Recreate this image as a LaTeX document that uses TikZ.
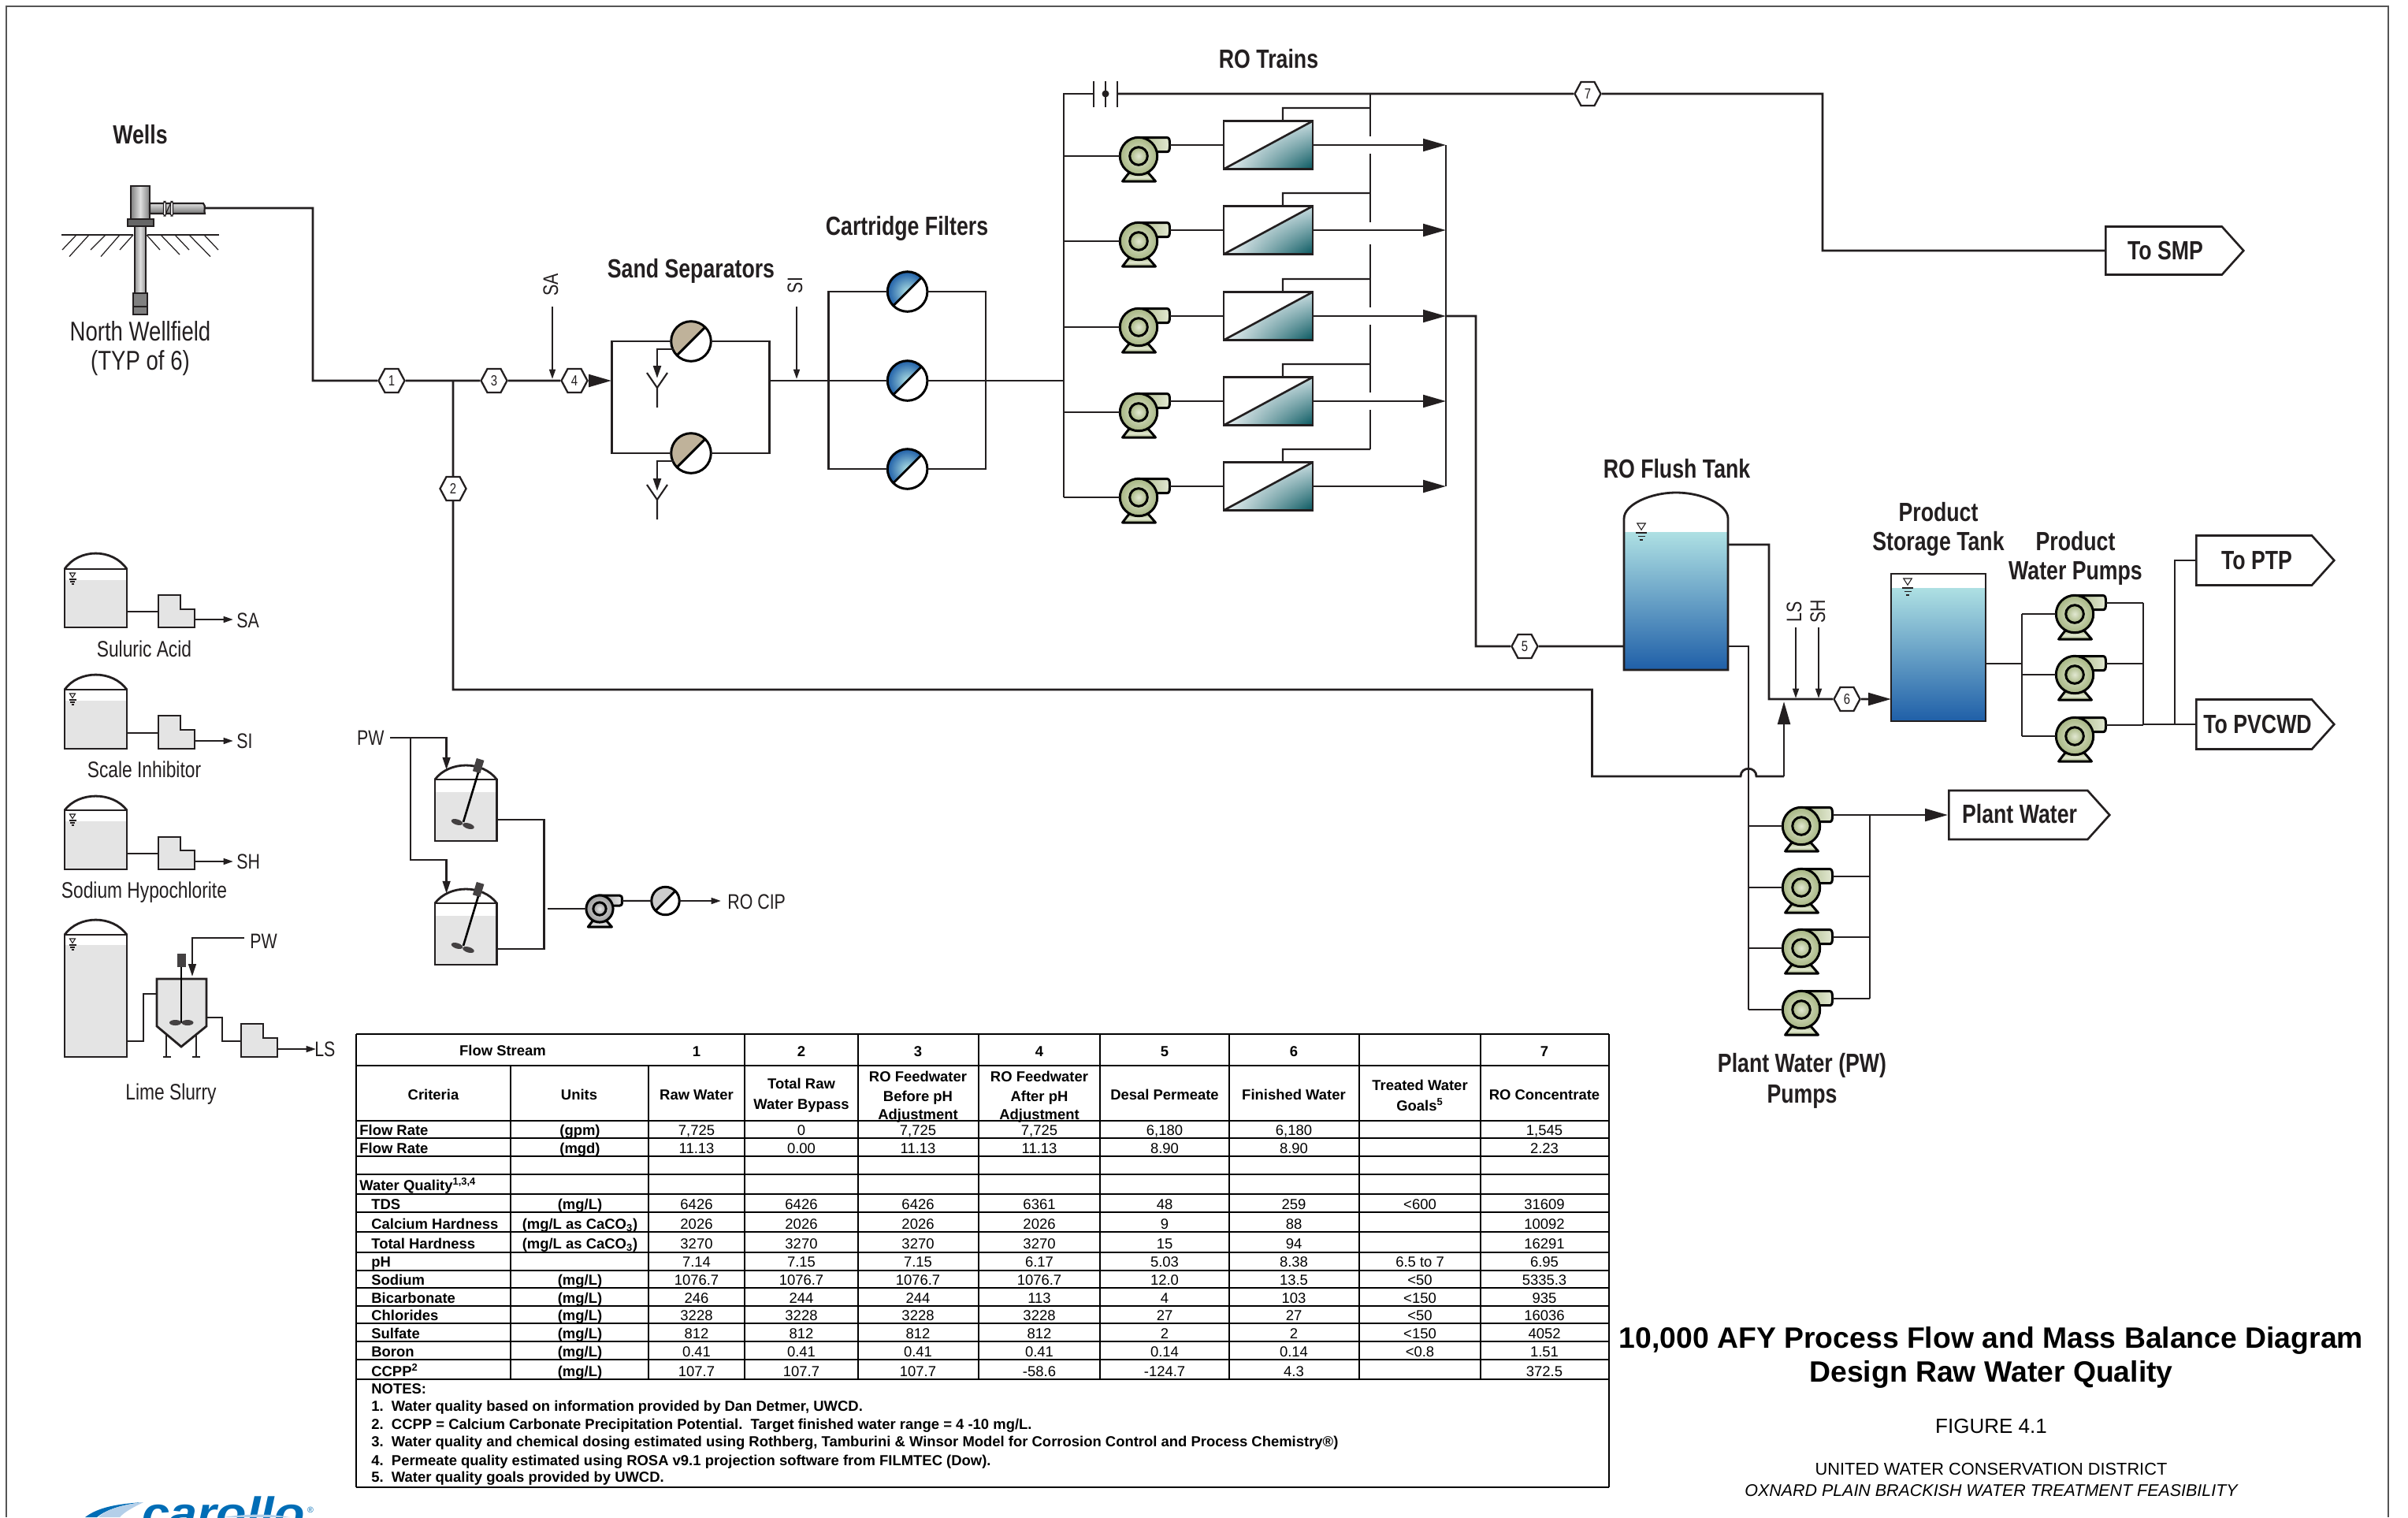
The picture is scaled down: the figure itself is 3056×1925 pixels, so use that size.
\documentclass[tikz,border=0pt]{standalone}
\usepackage{fontspec}
\setmainfont{Liberation Sans}
\newfontfamily\condb[FakeStretch=0.80]{Liberation Sans}
\newfontfamily\condr[FakeStretch=0.80]{Liberation Sans}
\usetikzlibrary{arrows.meta,shapes.symbols,shadings}
\def\px{0.569055pt}
\definecolor{lin}{HTML}{231F20}
\definecolor{framec}{HTML}{555555}
\definecolor{liq}{HTML}{E4E4E4}
\definecolor{aqua}{HTML}{AEE0E3}
\definecolor{deepb}{HTML}{1F5FA8}
\definecolor{tan}{HTML}{BFB29A}
\definecolor{pumpL}{HTML}{E2E8D2}
\definecolor{pumpD}{HTML}{A7B683}
\definecolor{grayL}{HTML}{E6E6E6}
\definecolor{grayD}{HTML}{9A9A9A}
\definecolor{tealD}{HTML}{07575F}
\definecolor{tealM}{HTML}{C8DCE0}
\definecolor{tealW}{HTML}{EEF4F6}
\definecolor{logoD}{HTML}{006DB6}
\definecolor{logoL}{HTML}{B4CFE9}
\tikzset{
 x=0.02cm,y=-0.02cm,
 pipe/.style={draw=lin,line width=1.6pt,line join=miter},
 fine/.style={draw=lin,line width=1.3pt,line join=miter},
 edgeline/.style={draw=black,line width=1.6pt,line join=miter},
 bigarrow/.style={-{Triangle[length=16.5pt,width=9pt]}},
 medarrow/.style={-{Triangle[length=9pt,width=5.5pt]}},
 smallarrow/.style={-{Triangle[length=7pt,width=4.4pt]}},
 hexnode/.style={shape=signal,signal to=east and west,signal pointer angle=124,draw=lin,line width=1.3pt,fill=white,
   minimum width=33*\px,minimum height=30*\px,inner sep=0pt,font=\fontsize{10.6}{12}\selectfont\condr,text=lin},
 flagnode/.style={shape=signal,signal to=east,signal pointer angle=96,draw=lin,line width=1.5pt,fill=white,anchor=west,inner sep=0pt},
 boldlbl/.style={font=\fontsize{19}{22}\selectfont\condb\bfseries,text=lin,inner sep=0pt,align=center},
 reglbl/.style={font=\fontsize{19.6}{22}\selectfont\condr,text=lin,inner sep=0pt,align=center},
 chemlbl/.style={font=\fontsize{16.2}{20}\selectfont\condr,text=lin,inner sep=0pt},
 taglbl/.style={font=\fontsize{15.2}{18}\selectfont\condr,text=lin,inner sep=0pt},
 cellr/.style={font=\fontsize{10.5}{12}\selectfont,text=black,inner sep=0pt,text height=.75em,text depth=.25em,yshift=-2pt},
 cellb/.style={font=\fontsize{10.5}{12}\selectfont\bfseries,text=black,inner sep=0pt,text height=.75em,text depth=.25em,yshift=-2pt},
 cellm/.style={font=\fontsize{10.5}{12}\selectfont\bfseries,text=black,inner sep=0pt,align=center,yshift=-1pt},
 tline/.style={draw=black,line width=1.4pt},
 titlelbl/.style={font=\fontsize{21.25}{24}\selectfont\bfseries,text=black,inner sep=0pt},
 pics/pump/.style n args={2}{code={
   \shade[left color=#2,right color=#1,draw=black,line width=1.7pt,line join=round]
     (-2,-23.5) -- (35,-23.5) .. controls (39,-23.5) and (39.5,-22) .. (39.5,-14) .. controls (39.5,-7) and (39,-5.3) .. (35,-5.3) -- (15,-5.3) -- cycle;
   \shade[top color=#2,bottom color=#2,middle color=#1,draw=black,line width=1.7pt,line join=round] (-12,21) -- (-20.5,32) -- (21.5,32) -- (12,21) -- cycle;
   \shade[inner color=#1,outer color=#2,draw=black,line width=1.7pt] (0,0) circle[radius=23.7];
   \shade[inner color=#1,outer color=#2,draw=black,line width=1.7pt] (0,0) circle[radius=11.3];
   \coordinate (-in) at (-23.7,0); \coordinate (-out) at (39.5,-14);
 }},
 pics/rounit/.style={code={
   \fill[white] (-56.5,-30.5) rectangle (56.5,30.5);
   \shade[upper left=white,upper right=tealM,lower left=tealW,lower right=tealD] (-56.5,30.5) -- (56.5,-30.5) -- (56.5,30.5) -- cycle;
   \draw[lin,line width=1.5pt] (-56.5,30.5) -- (56.5,-30.5);
   \draw[lin,line width=1.6pt] (-56.5,-30.5) rectangle (56.5,30.5);
   \coordinate (-in) at (-56.5,0); \coordinate (-out) at (56.5,0); \coordinate (-top) at (18.5,-30.5);
 }},
 pics/splitball/.style n args={2}{code={
   \fill[white] (0,0) circle[radius=25.3];
   \begin{scope}
     \clip (-30,30) -- (30,-30) -- (-30,-30) -- cycle;
     \shade[inner color=#1,outer color=#2] (0,0) circle[radius=25.3];
   \end{scope}
   \draw[black,line width=1.7pt] (-17.9,17.9) -- (17.9,-17.9);
   \draw[black,line width=1.7pt] (0,0) circle[radius=25.3];
   \coordinate (-w) at (-25.3,0); \coordinate (-e) at (25.3,0); \coordinate (-ll) at (-22,10);
 }},
 pics/levelmark/.style={code={
   \draw[lin,line width=.6pt,fill=white] (-3.5,0) -- (3.5,0) -- (0,5.5) -- cycle;
   \draw[lin,line width=.6pt] (-4.5,8) -- (4.5,8) (-3,11) -- (3,11) (-1.5,14) -- (1.5,14);
 }},
 pics/drainY/.style={code={
   \draw[lin,line width=1.2pt,line join=miter] (-13,0) -- (0,19) -- (13,0) (0,19) -- (0,44);
 }},
 pics/agitank/.style={code={
   \fill[liq] (0,34) rectangle (78.5,96);
   \draw[lin,line width=1.6pt] (0,18) .. controls (18,-6) and (60.5,-6) .. (78.5,18);
   \draw[lin,line width=1.6pt] (0,18) rectangle (78.5,96);
   \draw[black,line width=1.5pt] (55,9) -- (36,72);
   \begin{scope}[shift={(55,1)},rotate=-17]
     \fill[lin!85] (-5,-9) rectangle (5,8);
   \end{scope}
   \fill[lin!85,rotate around={-17:(28,72)}] (28,72) ellipse[x radius=7.5,y radius=3.5];
   \fill[lin!85,rotate around={-17:(42.5,77)}] (42.5,77) ellipse[x radius=7.5,y radius=3.5];
   \coordinate (-in) at (14.6,5.7); \coordinate (-r) at (78.5,69);
 }}
}
\newcommand\chemtank[5]{% name, dome, shoulder, liquid, bottom
  \fill[liq] (82,#4) rectangle (161,#5);
  \draw[lin,line width=1.6pt] (82,#3) .. controls (100,{#3-1.33*(#3-#2)}) and (143,{#3-1.33*(#3-#2)}) .. (161,#3);
  \draw[lin,line width=1.6pt] (82,#3) rectangle (161,#5);
  \pic at (92,{#3+5}) {levelmark};
  \coordinate (#1-e) at (161,#5);
}
\newcommand\lpump[5]{% name, x, top, step, bottom
  \draw[lin,line width=1.6pt,fill=liq] (#2,#3) -- ({#2+28},#3) -- ({#2+28},#4) -- ({#2+46},#4) -- ({#2+46},#5) -- (#2,#5) -- cycle;
  \coordinate (#1-in) at (#2,{#5-20});
  \coordinate (#1-out) at ({#2+46},{#5-10});
  \coordinate (#1-tip) at ({#2+95},{#5-10});
}
\newcommand\trow[6]{% id, y, label x, label, unit, values
  \node[cellb,anchor=west] (lab#1) at (#3,#2) {#4};
  \node[cellb] (unit#1) at (736,#2) {#5};
  \foreach \v [count=\i] in {#6} {
    \pgfmathsetmacro\cx{{884,1017,1165,1319,1478,1642,1802,1960}[\i-1]}
    \node[cellr] (v#1-\i) at (\cx,#2) {\v};
  }
}
\begin{document}
\begin{tikzpicture}
\path[use as bounding box,fill=white] (0,0) rectangle (3056,1925);
% frame
\coordinate (fa) at (8,1925); \coordinate (fb) at (8,8); \coordinate (fc) at (3031,8); \coordinate (fd) at (3031,1925);
\draw[framec,line width=1.4pt] (fa) -- (fb) -- (fc) -- (fd);

% ---------- titles
\node[boldlbl] (tWells) at (178,171) {Wells};
\node[reglbl] (tNorth) at (178,420) {North Wellfield};
\node[reglbl] (tTyp) at (178,461) {(TYP of 6)};
\node[boldlbl] (tSand) at (877,344) {Sand Separators};
\node[boldlbl] (tCart) at (1151,290) {Cartridge Filters};
\node[boldlbl] (tRO) at (1610,75) {RO Trains};
\node[boldlbl] (tFlush) at (2128,595) {RO Flush Tank};
\node[boldlbl] (tProdA) at (2460,650) {Product};
\node[boldlbl] (tProdB) at (2460,690) {Storage Tank};
\node[boldlbl] (tPWA) at (2634,687) {Product};
\node[boldlbl] (tPWB) at (2634,727) {Water Pumps};
\node[boldlbl] (tPlA) at (2287,1352) {Plant Water (PW)};
\node[boldlbl] (tPlB) at (2287,1391) {Pumps};

% ---------- well
\begin{scope}
 \shade[left color=gray!85,right color=gray!85,middle color=gray!25,draw=lin,line width=1.4pt] (171,287) rectangle (185,372);
 \shade[left color=gray,right color=gray,middle color=gray!25,draw=lin,line width=1.6pt] (166,236) rectangle (190,278);
 \shade[top color=gray!25,bottom color=gray!90!black,draw=lin,line width=1.2pt] (190,258) -- (258,258) .. controls (262,262) and (258,267) .. (260,271) -- (190,271) -- cycle;
 \fill[gray!80!black,draw=lin,line width=1.4pt] (162,278) rectangle (195,287);
 \fill[gray,draw=lin,line width=1.4pt] (169,372) rectangle (187,399);
 \draw[lin,line width=1.4pt] (169,389) -- (187,389);
 \draw[lin,line width=.8pt,fill=white,rounded corners=1pt] (207.5,255.5) rectangle (210.5,274);
 \draw[lin,line width=.8pt,fill=white,rounded corners=1pt] (216.5,255.5) rectangle (219.5,274);
 \draw[lin,line width=.7pt] (210.5,271) -- (216.5,258);
 \draw[lin,line width=1.4pt] (78,298) -- (169,298) (187,298) -- (278,298);
 \draw[lin,line width=.7pt] (97,298) -- (79,317) (113,298) -- (88,325.5) (134,298) -- (115,317) (152,298) -- (128,325.5) (169,298) -- (152,317)
   (186,298) -- (203,317) (204,298) -- (228,323) (222,298) -- (240,317) (240,298) -- (267,325.5) (259,298) -- (277,317);
 \coordinate (wellout) at (260,264);
\end{scope}

% ---------- stream tags
\node[hexnode] (h1) at (497,483) {1};
\node[hexnode] (h2) at (575,620) {2};
\node[hexnode] (h3) at (627,483) {3};
\node[hexnode] (h4) at (729,483) {4};
\node[hexnode] (h5) at (1935,820) {5};
\node[hexnode] (h6) at (2344,887) {6};
\node[hexnode] (h7) at (2015,119) {7};

% ---------- inlet
\coordinate (j0) at (397,483);
\coordinate (j2) at (575,483);
\coordinate (saS) at (701,389); \coordinate (saE) at (701,481);
\coordinate (sL) at (776,483); \coordinate (sR) at (976.5,483);
\draw[pipe] (wellout) -| (j0) -- (h1) -- (h3) -- (h4);
\draw[pipe,bigarrow] (h4) -- (sL);
\draw[fine,smallarrow] (saS) -- (saE);
\node[taglbl,rotate=90] (tagSA) at (699,361) {SA};

% ---------- sand separators
\pic (sand1) at (877,433) {splitball={tan}{tan}};
\pic (sand2) at (877,575) {splitball={tan}{tan}};
\coordinate (sTL) at (776.5,433); \coordinate (sBL) at (776.5,575);
\coordinate (sTR) at (976.5,433); \coordinate (sBR) at (976.5,575);
\draw[pipe] (sand1-w) -- (sTL) -- (sBL) -- (sand2-w);
\draw[pipe] (sand1-e) -- (sTR) -- (sBR) -- (sand2-e);
\coordinate (d1a) at (834,443); \coordinate (d1b) at (834,480);
\coordinate (d2a) at (834,585); \coordinate (d2b) at (834,623);
\draw[pipe,medarrow] (sand1-ll) -- (d1a) -- (d1b);
\draw[pipe,medarrow] (sand2-ll) -- (d2a) -- (d2b);
\pic at (834,473) {drainY};
\pic at (834,615) {drainY};

% ---------- cartridge filters
\pic (f1) at (1151.6,370) {splitball={aqua}{deepb}};
\pic (f2) at (1151.6,483) {splitball={aqua}{deepb}};
\pic (f3) at (1151.6,595) {splitball={aqua}{deepb}};
\coordinate (fTL) at (1051.6,370); \coordinate (fBL) at (1051.6,595);
\coordinate (fTR) at (1251,370); \coordinate (fBR) at (1251,595);
\coordinate (railin) at (1350,483);
\draw[pipe] (f1-w) -- (fTL) -- (fBL) -- (f3-w);
\draw[pipe] (f1-e) -- (fTR) -- (fBR) -- (f3-e);
\draw[pipe] (sR) -- (f2-w);
\draw[pipe] (f2-e) -- (railin);
\coordinate (siS) at (1011,389); \coordinate (siE) at (1011,481);
\draw[fine,smallarrow] (siS) -- (siE);
\node[taglbl,rotate=90] (tagSI) at (1009,362) {SI};
% ---------- RO trains
\coordinate (rTop) at (1350,119);
\coordinate (rBot) at (1350,631);
\coordinate (vL) at (1388,119); \coordinate (vR) at (1418,119);
\draw[pipe] (vL) -- (rTop) -- (rBot);
\coordinate (vLa) at (1388,103); \coordinate (vLb) at (1388,136);
\coordinate (vMa) at (1403,103); \coordinate (vMb) at (1403,136);
\coordinate (vRa) at (1418,103); \coordinate (vRb) at (1418,136);
\draw[fine] (vLa) -- (vLb); \draw[fine] (vMa) -- (vMb); \draw[fine] (vRa) -- (vRb);
\fill[lin] (vMa |- vL) circle[radius=4.5];
\coordinate (rr) at (1835,184); \coordinate (rrEnd) at (1835,617);
\draw[pipe] (rr) -- (rrEnd);
\foreach \i/\ry in {1/184,2/292,3/401,4/509,5/617}{
  \pic (ro\i) at (1609.5,\ry) {rounit};
  \pic (p\i) at (1445,{\ry+14}) {pump={pumpL}{pumpD}};
  \draw[pipe] (rTop |- p\i-in) -- (p\i-in);
  \draw[fine] (p\i-out) -- (ro\i-in);
  \coordinate (tip\i) at (1835,\ry);
  \draw[pipe,bigarrow] (ro\i-out) -- (tip\i);
  \coordinate (up\i) at (1628,{\ry-47});
  \coordinate (cj\i) at (1739,{\ry-47});
  \draw[fine] (ro\i-top) -- (up\i) -- (cj\i);
}
\coordinate (c0) at (1739,119); \coordinate (c1) at (1739,173);
\coordinate (c2) at (1739,195); \coordinate (c3) at (1739,282);
\coordinate (c4) at (1739,310); \coordinate (c5) at (1739,390);
\coordinate (c6) at (1739,412); \coordinate (c7) at (1739,498);
\coordinate (c8) at (1739,520);
\draw[pipe] (c0) -- (c1); \draw[pipe] (c2) -- (c3); \draw[pipe] (c4) -- (c5); \draw[pipe] (c6) -- (c7); \draw[pipe] (c8) -- (cj5);
% concentrate
\node[flagnode,minimum width=175*\px,minimum height=61*\px] (smp) at (2671,318) {};
\node[boldlbl] (tSMP) at (2748,318) {To SMP};
\coordinate (k1) at (2313,119); \coordinate (k2) at (2313,318);
\draw[pipe] (vR) -- (h7) -- (k1) -- (k2) -- (smp.west);
% permeate to flush tank
\coordinate (pA) at (1873,401); \coordinate (pB) at (1873,820);
\coordinate (ftL) at (2061,820);
\draw[pipe] (tip3) -- (pA) -- (pB) -- (h5) -- (ftL);

% ---------- RO flush tank
\shade[top color=aqua,bottom color=deepb] (2061,675) rectangle (2193,850);
\draw[edgeline,draw=lin] (2061,850) -- (2061,658) .. controls (2061,640) and (2095,625) .. (2127,625) .. controls (2160,625) and (2193,640) .. (2193,658) -- (2193,850) -- cycle;
\pic[scale=1.5] at (2083,664) {levelmark};
\coordinate (ftA) at (2193,691); \coordinate (ftB) at (2245,691); \coordinate (ftC) at (2245,887);
\draw[pipe] (ftA) -- (ftB) -- (ftC) -- (h6);
\coordinate (psL) at (2400,887);
\draw[pipe,bigarrow] (h6) -- (psL);
\coordinate (lsA) at (2279,796); \coordinate (lsB) at (2279,886);
\coordinate (shA) at (2308,796); \coordinate (shB) at (2308,886);
\draw[fine,smallarrow] (lsA) -- (lsB);
\draw[fine,smallarrow] (shA) -- (shB);
\node[taglbl,rotate=90] (tagLS) at (2277,776) {LS};
\node[taglbl,rotate=90] (tagSH) at (2307,776) {SH};

% ---------- bypass
\coordinate (by1) at (575,875); \coordinate (by2) at (2020.5,875); \coordinate (by3) at (2020.5,985);
\coordinate (by4) at (2209,985); \coordinate (by5) at (2229,985); \coordinate (by6) at (2264,985); \coordinate (by7) at (2264,890);
\draw[pipe] (j2) -- (h2) -- (by1) -- (by2) -- (by3) -- (by4) .. controls (2209,972) and (2229,972) .. (by5) -- (by6);
\draw[pipe,bigarrow] (by6) -- (by7);

% ---------- plant water pumps
\coordinate (ftD) at (2193,820); \coordinate (ftE) at (2219,820); \coordinate (ftF) at (2219,1281);
\draw[pipe] (ftD) -- (ftE) -- (ftF);
\coordinate (pwT) at (2373,1034); \coordinate (pwB) at (2373,1267);
\draw[pipe] (pwT) -- (pwB);
\foreach \i/\py in {1/1048,2/1126,3/1203,4/1281}{
  \pic (q\i) at (2286,\py) {pump={pumpL}{pumpD}};
  \draw[pipe] (ftE |- q\i-in) -- (q\i-in);
  \draw[pipe] (q\i-out) -- (pwT |- q\i-out);
}
\node[flagnode,minimum width=204*\px,minimum height=62*\px] (plant) at (2472,1034) {};
\node[boldlbl] (tPlant) at (2563,1033) {Plant Water};
\draw[pipe,bigarrow] (pwT) -- (plant.west);

% ---------- product tank
\shade[top color=aqua,bottom color=deepb] (2400,746) rectangle (2520,915);
\draw[edgeline,draw=lin] (2400,728) rectangle (2520,915);
\pic[scale=1.5] at (2421,734) {levelmark};
\coordinate (ptR) at (2520,842); \coordinate (pvL) at (2566,842);
\coordinate (pvT) at (2566,779); \coordinate (pvB) at (2566,934);
\draw[pipe] (pvT) -- (pvB);
\draw[pipe] (ptR) -- (pvL);
\coordinate (pzT) at (2720,765); \coordinate (pzB) at (2720,919);
\draw[pipe] (pzT) -- (pzB);
\foreach \i/\py in {1/779,2/856,3/934}{
  \pic (w\i) at (2633,\py) {pump={pumpL}{pumpD}};
  \draw[pipe] (pvL |- w\i-in) -- (w\i-in);
  \draw[pipe] (w\i-out) -- (pzT |- w\i-out);
}
\node[flagnode,minimum width=175*\px,minimum height=63*\px] (ptp) at (2786,711) {};
\node[boldlbl] (tPTP) at (2864,711) {To PTP};
\node[flagnode,minimum width=175*\px,minimum height=63*\px] (pvcwd) at (2786,919) {};
\node[boldlbl] (tPV) at (2865,919) {To PVCWD};
\coordinate (ptj) at (2760,919);
\draw[pipe] (pzB) -- (pvcwd.west);
\draw[pipe] (ptj) |- (ptp.west);

% ---------- chemicals
\chemtank{t1}{702}{722}{736}{796}
\lpump{lp1}{201}{755}{773}{796}
\draw[pipe] (lp1-in -| t1-e) -- (lp1-in);
\draw[fine,smallarrow] (lp1-out) -- (lp1-tip);
\node[taglbl,anchor=west] (tagSA2) at (300,787) {SA};
\node[chemlbl] (tSul) at (183,823) {Suluric Acid};

\chemtank{t2}{856}{875}{889}{950}
\lpump{lp2}{201}{908}{926}{950}
\draw[pipe] (lp2-in -| t2-e) -- (lp2-in);
\draw[fine,smallarrow] (lp2-out) -- (lp2-tip);
\node[taglbl,anchor=west] (tagSI2) at (300,940) {SI};
\node[chemlbl] (tSca) at (183,976) {Scale Inhibitor};

\chemtank{t3}{1010}{1028}{1042}{1103}
\lpump{lp3}{201}{1062}{1079}{1103}
\draw[pipe] (lp3-in -| t3-e) -- (lp3-in);
\draw[fine,smallarrow] (lp3-out) -- (lp3-tip);
\node[taglbl,anchor=west] (tagSH2) at (300,1093) {SH};
\node[chemlbl] (tSod) at (183,1132) {Sodium Hypochlorite};

\chemtank{t4}{1167}{1186}{1199}{1341}
% mixer
\fill[liq,draw=lin,line width=1.6pt] (199,1242) -- (262,1242) -- (262,1302) -- (230,1328) -- (199,1302) -- cycle;
\draw[lin,line width=1.5pt] (211,1312) -- (211,1341) (207,1341) -- (217,1341) (249,1312) -- (249,1341) (244,1341) -- (254,1341);
\draw[black,line width=1.6pt] (230,1227) -- (230,1298);
\fill[lin!85] (225,1210) rectangle (236,1227);
\fill[lin!85] (222.5,1297.5) ellipse[x radius=7.5,y radius=3.5];
\fill[lin!85] (238,1297.5) ellipse[x radius=7.5,y radius=3.5];
\coordinate (mA) at (161,1321); \coordinate (mB) at (182,1321); \coordinate (mC) at (182,1261); \coordinate (mD) at (199,1261);
\draw[pipe] (mA) -- (mB) -- (mC) -- (mD);
\coordinate (pwA) at (310,1190); \coordinate (pwB1) at (244,1190); \coordinate (pwC) at (244,1239);
\draw[fine,medarrow] (pwA) -- (pwB1) -- (pwC);
\node[taglbl,anchor=west] (tagPW) at (317,1194) {PW};
\lpump{lp4}{306}{1299}{1317}{1341}
\coordinate (mE) at (262,1291); \coordinate (mF) at (282,1291); \coordinate (mG) at (282,1321);
\draw[pipe] (mE) -- (mF) -- (mG) -- (lp4-in);
\draw[fine,smallarrow] (lp4-out) -- (lp4-tip);
\node[taglbl,anchor=west] (tagLS2) at (399,1331) {LS};
\node[chemlbl] (tLime) at (217,1388) {Lime Slurry};

% ---------- RO CIP
\pic (tankA) at (552,971) {agitank};
\pic (tankB) at (552,1128) {agitank};
\node[taglbl,anchor=east] (tagPW2) at (488,936) {PW};
\coordinate (ciA) at (495,936); \coordinate (ciB) at (566.6,936); \coordinate (ciC) at (521,936); \coordinate (ciD) at (521,1091); \coordinate (ciE) at (566.6,1091);
\draw[fine,medarrow] (ciA) -- (ciB) -- (tankA-in);
\draw[fine,medarrow] (ciC) -- (ciD) -- (ciE) -- (tankB-in);
\coordinate (cjA) at (690.6,1040); \coordinate (cjB) at (690.6,1204); \coordinate (cjC) at (630.5,1204);
\draw[pipe] (tankA-r) -- (cjA) -- (cjB) -- (cjC);
\pic[scale=.72] (cip) at (761,1153) {pump={grayL}{grayD}};
\coordinate (cjD) at (695,1153);
\draw[pipe] (cjD) -- (cip-in);
\pic[scale=.7] (meter) at (844.5,1143) {splitball={gray!40}{gray!40}};
\draw[fine] (cip-out) -- (meter-w);
\coordinate (ciptip) at (915,1143);
\draw[fine,smallarrow] (meter-e) -- (ciptip);
\node[taglbl,anchor=west] (tagCIP) at (923,1144) {RO CIP};

% ---------- table
\foreach \y in {1312,1352,1422,1444,1467,1490,1515,1538,1563,1589,1612,1634,1657,1679,1702,1725,1750,1887}
  \draw[tline] (452,\y) -- (2042,\y);
\foreach \x in {452,2042} \draw[tline] (\x,1312) -- (\x,1887);
\foreach \x in {648,823} \draw[tline] (\x,1352) -- (\x,1750);
\foreach \x in {945,1089,1242,1396,1560,1725,1879} \draw[tline] (\x,1312) -- (\x,1750);
\node[cellb] (hFS) at (638,1332) {Flow Stream};
\foreach \n/\cx/\t in {1/884/1,2/1017/2,3/1165/3,4/1319/4,5/1478/5,6/1642/6,7/1960/7}
  \node[cellb] (hn\n) at (\cx,1333) {\t};
\node[cellb] (hCr) at (550,1388) {Criteria};
\node[cellb] (hUn) at (735,1388) {Units};
\node[cellb] (hRaw) at (884,1388) {Raw Water};
\node[cellm] (hByp) at (1017,1388) {Total Raw\\[3pt]Water Bypass};
\node[cellm] (hFe1) at (1165,1390) {RO Feedwater\\[2pt]Before pH\\[1pt]Adjustment};
\node[cellm] (hFe2) at (1319,1390) {RO Feedwater\\[2pt]After pH\\[1pt]Adjustment};
\node[cellb] (hDes) at (1478,1388) {Desal Permeate};
\node[cellb] (hFin) at (1642,1388) {Finished Water};
\node[cellm] (hGoal) at (1802,1388) {Treated Water\\[3pt]Goals\textsuperscript{5}};
\node[cellb] (hCon) at (1960,1388) {RO Concentrate};

\trow{a}{1433}{456}{Flow Rate}{(gpm)}{{7,725},0,{7,725},{7,725},{6,180},{6,180},{},{1,545}}
\trow{b}{1456}{456}{Flow Rate}{(mgd)}{11.13,0.00,11.13,11.13,8.90,8.90,{},2.23}
\node[cellb,anchor=west] (labq) at (456,1503) {Water Quality\textsuperscript{1,3,4}};
\trow{c}{1527}{471}{TDS}{(mg/L)}{6426,6426,6426,6361,48,259,<600,31609}
\trow{d}{1552}{471}{Calcium Hardness}{(mg/L as CaCO\textsubscript{3})}{2026,2026,2026,2026,9,88,{},10092}
\trow{e}{1577}{471}{Total Hardness}{(mg/L as CaCO\textsubscript{3})}{3270,3270,3270,3270,15,94,{},16291}
\trow{f}{1600}{471}{pH}{}{7.14,7.15,7.15,6.17,5.03,8.38,6.5 to 7,6.95}
\trow{g}{1623}{471}{Sodium}{(mg/L)}{1076.7,1076.7,1076.7,1076.7,12.0,13.5,<50,5335.3}
\trow{h}{1646}{471}{Bicarbonate}{(mg/L)}{246,244,244,113,4,103,<150,935}
\trow{i}{1668}{471}{Chlorides}{(mg/L)}{3228,3228,3228,3228,27,27,<50,16036}
\trow{j}{1691}{471}{Sulfate}{(mg/L)}{812,812,812,812,2,2,<150,4052}
\trow{k}{1714}{471}{Boron}{(mg/L)}{0.41,0.41,0.41,0.41,0.14,0.14,<0.8,1.51}
\trow{l}{1739}{471}{CCPP\textsuperscript{2}}{(mg/L)}{107.7,107.7,107.7,-58.6,-124.7,4.3,{},372.5}

\node[cellb,anchor=west] (n0) at (471,1761) {NOTES:};
\node[cellb,anchor=west] (n1) at (471,1783) {1.\ \ Water quality based on information provided by Dan Detmer, UWCD.};
\node[cellb,anchor=west] (n2) at (471,1806) {2.\ \ CCPP = Calcium Carbonate Precipitation Potential.\ \ Target finished water range = 4 -10 mg/L.};
\node[cellb,anchor=west] (n3) at (471,1828) {3.\ \ Water quality and chemical dosing estimated using Rothberg, Tamburini \& Winsor Model for Corrosion Control and Process Chemistry®)};
\node[cellb,anchor=west] (n4) at (471,1852) {4.\ \ Permeate quality estimated using ROSA v9.1 projection software from FILMTEC (Dow).};
\node[cellb,anchor=west] (n5) at (471,1873) {5.\ \ Water quality goals provided by UWCD.};

% ---------- title block
\node[titlelbl] (tt1) at (2527,1701) {10,000 AFY Process Flow and Mass Balance Diagram};
\node[titlelbl] (tt2) at (2527,1744) {Design Raw Water Quality};
\node[font=\fontsize{14.8}{18}\selectfont,text=black,inner sep=0pt] (tt3) at (2527,1810) {FIGURE 4.1};
\node[font=\fontsize{12.4}{15}\selectfont,text=black,inner sep=0pt] (tt4) at (2527,1864) {UNITED WATER CONSERVATION DISTRICT};
\node[font=\fontsize{12.2}{15}\selectfont\itshape,text=black,inner sep=0pt] (tt5) at (2527,1891) {OXNARD PLAIN BRACKISH WATER TREATMENT FEASIBILITY};

% ---------- logo (cut off by the page edge)
\begin{scope}
 \clip (0,1890) rectangle (3056,1925);
 \fill[logoD] (108,1925) .. controls (125,1912) and (150,1908) .. (181,1906) .. controls (155,1909) and (135,1915) .. (123,1925) -- cycle;
 \fill[logoL] (125,1925) .. controls (135,1915) and (155,1909) .. (182,1906) .. controls (170,1912) and (158,1918) .. (152,1925) -- cycle;
 \node[anchor=base west,font=\fontsize{32}{36}\selectfont\bfseries\itshape,text=logoD,inner sep=0pt,xscale=1.12,transform shape] (logo) at (180,1939) {carollo};
 \fill[logoL] (283,1925) .. controls (310,1921) and (340,1920) .. (368,1925) -- cycle;
 \node[font=\fontsize{6}{7}\selectfont,text=logoD,inner sep=0pt] (logoR) at (394,1916) {®};
\end{scope}
\end{tikzpicture}
\end{document}
